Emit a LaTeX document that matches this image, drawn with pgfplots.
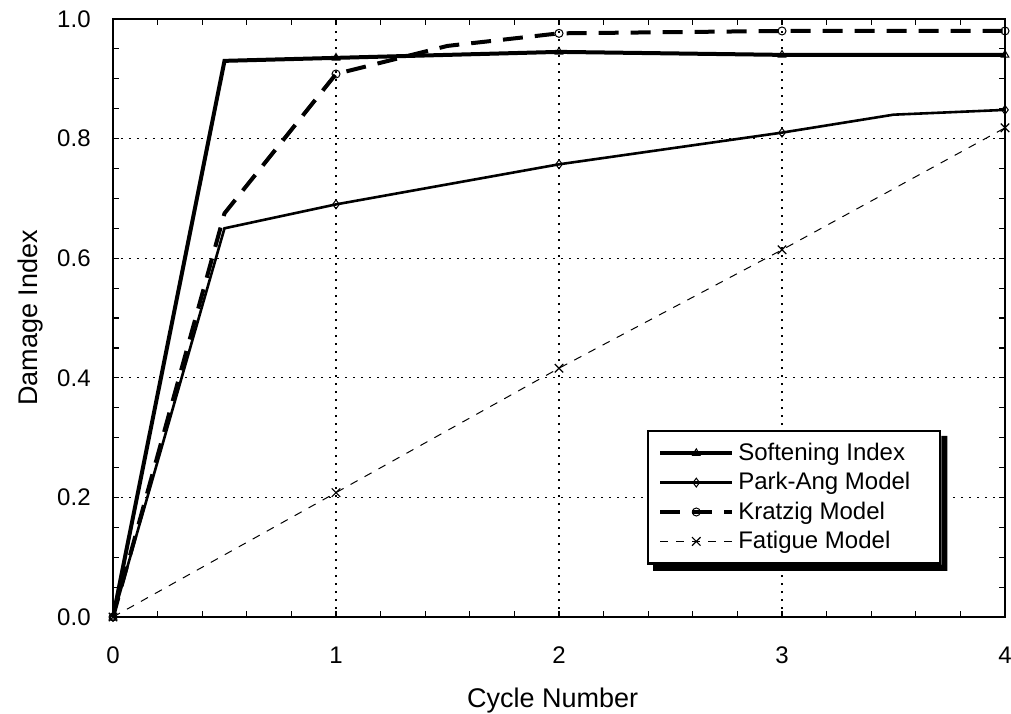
\documentclass[border=0pt]{standalone}
\usepackage{pgfplots}
\pgfplotsset{compat=1.18}
\usepackage{fontspec}
\setmainfont{Liberation Sans}

\pgfplotstableread{
x y
0 0
0.5 0.93
1 0.935
2 0.945
3 0.94
4 0.94
}\soft
\pgfplotstableread{
x y
0 0
0.5 0.65
1 0.69
2 0.757
3 0.81
3.5 0.84
4 0.848
}\park
\pgfplotstableread{
x y
0 0
0.5 0.675
1 0.908
1.5 0.955
2 0.976
3 0.98
4 0.98
}\kratzig
\pgfplotstableread{
x y
0 0
1 0.208
2 0.416
3 0.614
4 0.818
}\fatigue

\begin{document}
\begin{tikzpicture}
\begin{axis}[
  scale only axis, width=446pt, height=299pt,
  xmin=0, xmax=4, ymin=0, ymax=1,
  xtick={0,1,2,3,4}, ytick={0,0.2,0.4,0.6,0.8,1.0},
  minor x tick num=4, minor y tick num=3,
  tick align=inside, major tick length=3pt, minor tick length=3pt,
  tick style={black, line width=0.6pt},
  axis line style={black, line width=0.8pt},
  xmajorgrids, ymajorgrids,
  major grid style={black, line width=0.6pt, dash pattern=on 0.8pt off 3.2pt},
  /pgf/number format/assume math mode=true,
  ticklabel style={font=\fontsize{12}{14}\selectfont},
  xticklabel style={anchor=base, inner sep=0pt, yshift=-23pt},
  yticklabel style={anchor=east, inner sep=0pt, xshift=-11pt,
    /pgf/number format/fixed, /pgf/number format/fixed zerofill, /pgf/number format/precision=1},
  label style={font=\fontsize{13.5}{15}\selectfont},
  xlabel={Cycle Number},
  xlabel style={at={(axis description cs:0.493,-0.1505)}, anchor=base},
  ylabel={Damage Index},
  ylabel style={at={(axis description cs:-0.093,0.5)}, anchor=center},
  clip=false,
  legend cell align=left,
  legend image code/.code={\draw[#1, mark indices={2}] plot coordinates {(0pt,0pt) (18pt,0pt) (36pt,0pt)};},
  legend style={at={(axis cs:2.395,0.313)}, anchor=north west, name=leg,
    draw=black, line width=1.2pt, fill=white,
    font=\fontsize{12}{14}\selectfont,
    inner xsep=5pt, inner ysep=4pt, row sep=0.5pt},
]
\addplot[black, line width=2pt, mark=triangle, mark size=2.2pt,
  mark options={solid, fill=white, line width=0.5pt}, mark indices={1,3,4,5,6}]
  table[x=x,y=y] {\soft};
\addlegendentry{\makebox[94pt][l]{Softening Index}}
\addplot[black, line width=1.3pt, mark=diamond, mark size=2.2pt,
  mark options={solid, fill=white, line width=0.5pt}, mark indices={1,3,4,5,7}]
  table[x=x,y=y] {\park};
\addlegendentry{Park-Ang Model}
\addplot[black, line width=2pt, dash pattern=on 10pt off 6pt, mark=o, mark size=2pt,
  mark options={solid, fill=white, line width=0.5pt}, mark indices={1,3,5,6,7}]
  table[x=x,y=y] {\kratzig};
\addlegendentry{Kratzig Model}
\addplot[black, line width=0.5pt, dash pattern=on 4pt off 4pt, mark=x, mark size=3pt,
  mark options={solid, line width=0.6pt}]
  table[x=x,y=y] {\fatigue};
\addlegendentry{Fatigue Model}
\end{axis}
\fill[black] ([shift={(3pt,0pt)}]leg.south west) -- ([shift={(3pt,-3pt)}]leg.south west)
  -- ([shift={(3pt,-3pt)}]leg.south east) -- ([shift={(3pt,-3pt)}]leg.north east)
  -- ([shift={(0pt,-3pt)}]leg.north east) -- (leg.south east) -- cycle;
\pgfresetboundingbox
\path[use as bounding box] ([shift={(-56.5pt,-48pt)}]current axis.south west) rectangle ([shift={(3pt,9.5pt)}]current axis.north east);
\end{tikzpicture}
\end{document}
